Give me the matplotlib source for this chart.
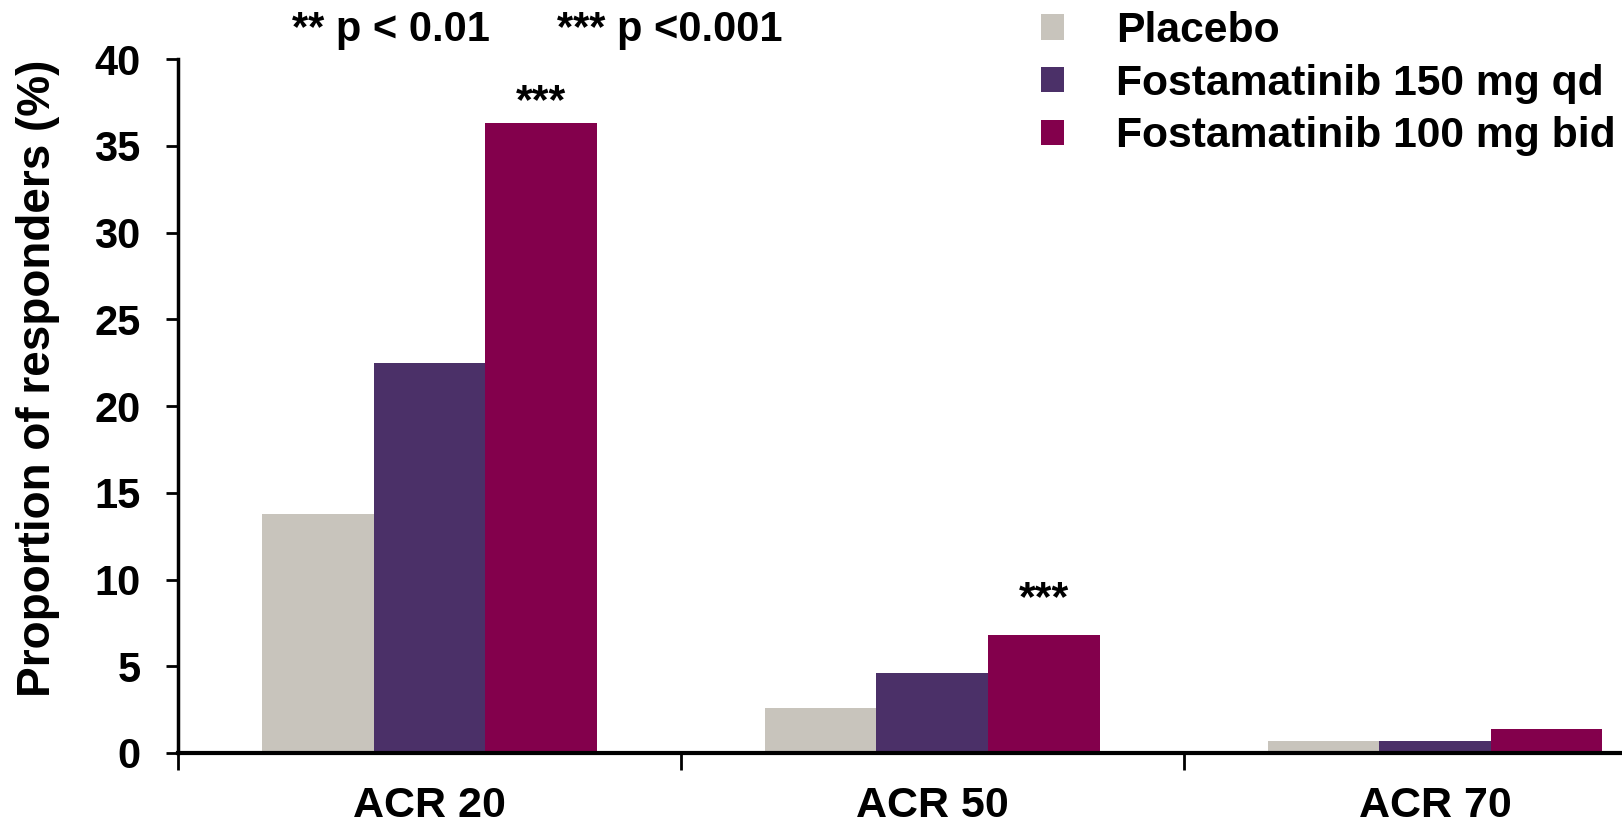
import matplotlib
matplotlib.use("Agg")
import matplotlib.pyplot as plt
import numpy as np

plt.rcParams["font.family"] = ["Liberation Sans", "DejaVu Sans"]
plt.rcParams["font.weight"] = "bold"

categories = ["ACR 20", "ACR 50", "ACR 70"]
series = ["Placebo", "Fostamatinib 150 mg qd", "Fostamatinib 100 mg bid"]
placebo = [13.75, 2.6, 0.7]
fosta_qd = [22.5, 4.6, 0.7]
fosta_bid = [36.3, 6.8, 1.4]
colors = ["#C8C4BC", "#4B3068", "#83004C"]

# significance marks: (category index, label, y of glyph top)
stars = [(0, "***", 38.7), (1, "***", 10.05)]

fig = plt.figure(figsize=(16.22, 8.24), dpi=100, facecolor="white")
ax = fig.add_axes([0.1097, 0.0862, 0.930, 0.842])

x = np.arange(len(categories))
w = 0.222
handles = []
for i, (vals, col, name) in enumerate(zip([placebo, fosta_qd, fosta_bid], colors, series)):
    b = ax.bar(x + (i - 1) * w, vals, width=w, color=col, edgecolor="none", label=name)
    handles.append(b)

for ci, lab, yy in stars:
    ax.text(ci + w, yy, lab, ha="center", va="top", fontsize=31, fontweight="bold")

ax.set_xlim(-0.5, 2.5)
ax.set_ylim(0, 40)
ax.set_yticks(range(0, 41, 5))
ax.tick_params(axis="y", labelsize=30, width=2, length=9, direction="out", pad=18)
ax.set_xticks([-0.5, 0.5, 1.5, 2.5])
ax.set_xticklabels([])
ax.tick_params(axis="x", width=2, length=12, direction="out")
ax.set_xticks(x, minor=True)
ax.set_xticklabels(categories, minor=True)
ax.tick_params(axis="x", which="minor", length=0, labelsize=31, pad=24)

ax.spines["top"].set_visible(False)
ax.spines["right"].set_visible(False)
ax.spines["left"].set_linewidth(2.5)
ax.spines["bottom"].set_linewidth(3)
ax.spines["left"].set_bounds(0, 40)

ax.set_ylabel("Proportion of responders (%)", fontsize=33, fontweight="bold")
ax.yaxis.set_label_coords(-0.078, 0.54)

fig.text(391 / 1622, 1 - 30 / 824, "** p < 0.01", ha="center", va="center", fontsize=30, fontweight="bold")
fig.text(670 / 1622, 1 - 30 / 824, "*** p <0.001", ha="center", va="center", fontsize=30, fontweight="bold")

fig.legend(handles, series, loc="upper left", bbox_to_anchor=(1011 / 1622, 1 + 19 / 824),
           frameon=False, fontsize=30.7, handlelength=0.55, handleheight=0.55,
           handletextpad=1.22, labelspacing=0.3, borderpad=0.2)

fig.savefig("out.png", dpi=100, facecolor="white")
